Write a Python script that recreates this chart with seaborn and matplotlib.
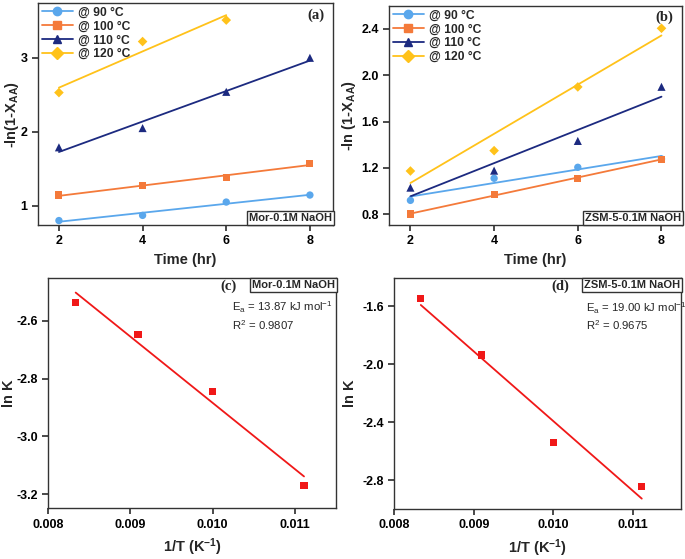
import matplotlib
matplotlib.use("Agg")
import matplotlib.pyplot as plt
from matplotlib.lines import Line2D
import seaborn as sns
import pandas as pd

# --- dati ---
time = [2, 4, 6, 8]
time_120a = [2, 4, 6]
temps = ["@ 90 °C", "@ 100 °C", "@ 110 °C", "@ 120 °C"]

a_90 = [0.80, 0.87, 1.05, 1.145]
a_100 = [1.145, 1.27, 1.385, 1.57]
a_110 = [1.79, 2.05, 2.54, 3.00]
a_120 = [2.53, 3.22, 3.51]

b_90 = [0.918, 1.109, 1.204, 1.276]
b_100 = [0.80, 0.967, 1.111, 1.273]
b_110 = [1.028, 1.175, 1.432, 1.90]
b_120 = [1.172, 1.348, 1.899, 2.406]

inv_T = [0.008333, 0.009091, 0.010000, 0.011111]
c_lnk = [-2.539, -2.649, -2.845, -3.169]
d_lnk = [-1.547, -1.937, -2.542, -2.841]

colors = ["#5aa7ec", "#f47a3a", "#1c2a80", "#ffc21a"]
markers = ["o", "s", "^", "D"]
msizes = [28, 26, 34, 24]

sns.set_theme(style="ticks")
plt.rcParams.update({
    "font.family": ["Liberation Sans", "DejaVu Sans"],
    "font.weight": "bold",
    "axes.unicode_minus": False,
    "mathtext.fontset": "custom",
    "mathtext.rm": "Liberation Sans:normal",
    "mathtext.bf": "Liberation Sans:bold",
    "mathtext.it": "Liberation Sans:italic",
    "axes.edgecolor": "#333333",
    "axes.linewidth": 1.0,
    "xtick.major.size": 4,
    "ytick.major.size": 4,
    "xtick.color": "#333333",
    "ytick.color": "#333333",
    "xtick.labelcolor": "black",
    "ytick.labelcolor": "black",
})

fig = plt.figure(figsize=(6.85, 5.59), dpi=100)
ax_a = fig.add_axes([0.0555, 0.5975, 0.4305, 0.397])
ax_b = fig.add_axes([0.568, 0.5975, 0.427, 0.392])
ax_c = fig.add_axes([0.0705, 0.0907, 0.42, 0.412])
ax_d = fig.add_axes([0.5756, 0.0894, 0.4181, 0.4133])

TICK_FS = 9
LAB_FS = 10.5


def kinetic_panel(ax, series, xs_list):
    for i, (ys, xs) in enumerate(zip(series, xs_list)):
        df = pd.DataFrame({"t": xs, "y": ys})
        sns.regplot(data=df, x="t", y="y", ax=ax, scatter=False, ci=None,
                    truncate=True, color=colors[i], line_kws={"lw": 1.3})
        sns.scatterplot(data=df, x="t", y="y", ax=ax, marker=markers[i],
                        s=msizes[i], color=colors[i], edgecolor="none", zorder=3)
    ax.set_xticks(time)
    ax.set_xlabel("Time (hr)", fontsize=LAB_FS, fontweight="bold")
    handles = [Line2D([0], [0], color=colors[i], marker=markers[i], lw=1.3,
                      markersize=[6, 5.5, 6, 6][i]) for i in range(4)]
    ax.legend(handles, temps, loc="upper left", frameon=False,
              handlelength=2.6, labelspacing=0.15, borderpad=0.1,
              borderaxespad=0.2, handletextpad=0.4,
              prop={"weight": "bold", "size": 8.7})


def box_label(ax, txt, x, y, ha, va):
    ax.text(x, y, txt, transform=ax.transAxes, ha=ha, va=va, fontsize=8,
            fontweight="bold",
            bbox=dict(boxstyle="square,pad=0.18", fc="white", ec="#333333", lw=1))


# (a)
kinetic_panel(ax_a, [a_90, a_100, a_110, a_120], [time, time, time, time_120a])
ax_a.set_xlim(1.5, 8.55)
ax_a.set_ylim(0.74, 3.74)
ax_a.set_yticks([1, 2, 3])
ax_a.set_ylabel(r"-ln(1-X$_{\mathbf{AA}}$)", fontsize=LAB_FS, fontweight="bold",
                labelpad=0)
ax_a.text(0.942, 0.946, "(a)", transform=ax_a.transAxes, ha="center", va="center",
          fontsize=10.5, fontweight="bold", family="Liberation Serif")
box_label(ax_a, "Mor-0.1M NaOH", 0.997, 0.01, "right", "bottom")

# (b)
kinetic_panel(ax_b, [b_90, b_100, b_110, b_120], [time, time, time, time])
ax_b.set_xlim(1.49, 8.48)
ax_b.set_ylim(0.705, 2.6)
ax_b.set_yticks([0.8, 1.2, 1.6, 2.0, 2.4])
ax_b.set_ylabel(r"-ln (1-X$_{\mathbf{AA}}$)", fontsize=LAB_FS, fontweight="bold",
                labelpad=2)
ax_b.text(0.941, 0.95, "(b)", transform=ax_b.transAxes, ha="center", va="center",
          fontsize=10.5, fontweight="bold", family="Liberation Serif")
box_label(ax_b, "ZSM-5-0.1M NaOH", 0.997, 0.01, "right", "bottom")


def arrhenius_panel(ax, lnk, tag, box, ea, r2, tx, xmax, ylim, yticks, tagx, pad):
    df = pd.DataFrame({"x": inv_T, "y": lnk})
    sns.regplot(data=df, x="x", y="y", ax=ax, scatter=False, ci=None,
                truncate=True, color="#f01818", line_kws={"lw": 1.3})
    sns.scatterplot(data=df, x="x", y="y", ax=ax, marker="s", s=26,
                    color="#f01818", edgecolor="none", zorder=3)
    ax.set_xlim(0.008, xmax)
    ax.set_ylim(*ylim)
    ax.set_xticks([0.008, 0.009, 0.010, 0.011])
    ax.set_xticklabels(["0.008", "0.009", "0.010", "0.011"])
    ax.set_yticks(yticks)
    ax.set_yticklabels([f"{v:.1f}" for v in yticks])
    ax.set_xlabel(r"1/T (K$^{\mathbf{-1}}$)", fontsize=LAB_FS, fontweight="bold")
    ax.set_ylabel("ln K", fontsize=LAB_FS, fontweight="bold", labelpad=pad)
    ax.text(tagx, 0.965, tag, transform=ax.transAxes, ha="center", va="center",
            fontsize=10.5, fontweight="bold", family="Liberation Serif")
    box_label(ax, box, 0.997, 0.993, "right", "top")
    ax.text(tx, 0.905,
            r"E$_\mathrm{a}$ = " + ea + r" kJ mol$^{\mathrm{-1}}$" + "\n"
            + r"R$^\mathrm{2}$ = " + r2,
            transform=ax.transAxes, ha="left", va="top", fontsize=8.2,
            fontweight="normal", linespacing=1.2)


arrhenius_panel(ax_c, c_lnk, "(c)", "Mor-0.1M NaOH", "13.87", "0.9807", 0.637,
                0.0115, (-3.248, -2.453), [-2.6, -2.8, -3.0, -3.2], 0.625, 0)
arrhenius_panel(ax_d, d_lnk, "(d)", "ZSM-5-0.1M NaOH", "19.00", "0.9675", 0.668,
                0.0116, (-2.997, -1.407), [-1.6, -2.0, -2.4, -2.8], 0.58, 4)

for ax in (ax_a, ax_b, ax_c, ax_d):
    for lbl in ax.get_xticklabels() + ax.get_yticklabels():
        lbl.set_fontsize(TICK_FS)
        lbl.set_fontweight("bold")

fig.savefig("out.png", dpi=100)
